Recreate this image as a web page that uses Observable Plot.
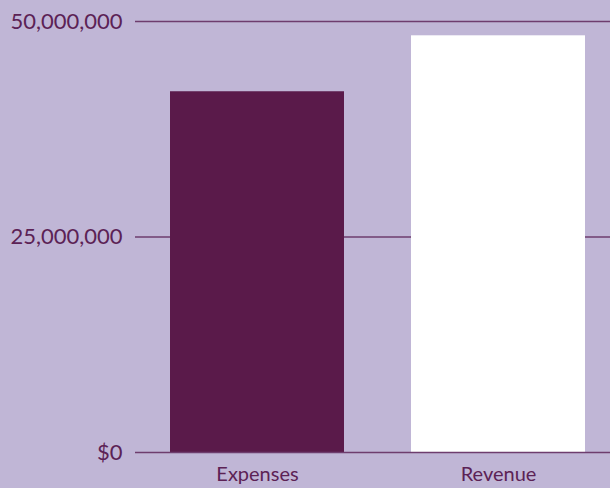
<!DOCTYPE html>
<html>
<head>
<meta charset="utf-8">
<script src="https://cdn.jsdelivr.net/npm/d3@7"></script>
<script src="https://cdn.jsdelivr.net/npm/@observablehq/plot@0.6"></script>
<style>
  html, body { margin: 0; padding: 0; background: #c0b6d6; }
  #chart svg { display: block; }
</style>
</head>
<body>
<div id="chart"></div>
<script>
const categories = ["Expenses", "Revenue"];
const values = [41850000, 48340000];
const barColors = ["#5a1a4a", "#ffffff"];
const yTicks = [0, 25000000, 50000000];
const yTickLabels = ["$0", "25,000,000", "50,000,000"];

const data = categories.map((c, i) => ({category: c, value: values[i]}));
const labelOf = new Map(yTicks.map((t, i) => [t, yTickLabels[i]]));

const chart = Plot.plot({
  width: 610,
  height: 488,
  marginLeft: 135,
  marginRight: 0,
  marginTop: 21,
  marginBottom: 36,
  style: {background: "#c0b6d6", fontFamily: "Lato, sans-serif", color: "#5c2255"},
  x: {domain: categories, range: [135, 620], paddingInner: 0.278, paddingOuter: 0.145, label: null},
  y: {domain: [0, 50000000], label: null},
  color: {domain: categories, range: barColors},
  marks: [
    Plot.ruleY(yTicks.filter(t => t !== 0), {stroke: "#6e3d6e", strokeWidth: 1.5}),
    Plot.barY(data, {x: "category", y: "value", fill: "category"}),
    Plot.ruleY([0], {stroke: "#6e3d6e", strokeWidth: 1.5}),
    Plot.axisY(yTicks, {tickSize: 0, tickPadding: 13, fontSize: 22, tickFormat: d => labelOf.get(d), label: null}),
    Plot.axisX({tickSize: 0, tickPadding: 14, fontSize: 20, label: null})
  ]
});
document.getElementById("chart").appendChild(chart);
</script>
</body>
</html>
